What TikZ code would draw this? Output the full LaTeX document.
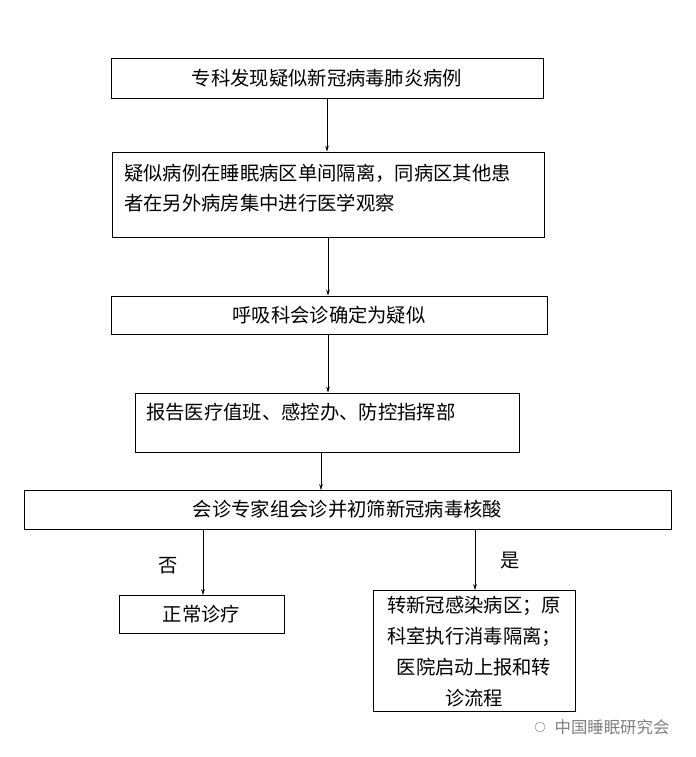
\documentclass[tikz,border=0pt]{standalone}
\usepackage{fontspec}
\newfontfamily\cjk{Noto Sans CJK SC}
\usetikzlibrary{arrows.meta}
\begin{document}
\begin{tikzpicture}[x=0.03cm,y=-0.03cm,
    box/.style={draw, thick, inner sep=0pt},
    lbl/.style={font=\cjk\fontsize{16.5}{26}\selectfont},
    arr/.style={-{Stealth[length=5pt,width=3pt]}}]
    \useasboundingbox (0,0) rectangle (695,757);

    % Boxes
    \node[box, minimum width=432*0.03cm, minimum height=40*0.03cm] (find) at (327,78) {};
    \node[box, minimum width=432*0.03cm, minimum height=85*0.03cm] (isolate) at (328,194.5) {};
    \node[box, minimum width=436*0.03cm, minimum height=38*0.03cm] (resp) at (329,315) {};
    \node[box, minimum width=384*0.03cm, minimum height=59*0.03cm] (report) at (327,422.5) {};
    \node[box, minimum width=647*0.03cm, minimum height=39*0.03cm] (expert) at (347.5,509.5) {};
    \node[box, minimum width=165*0.03cm, minimum height=38*0.03cm] (normal) at (201.5,614) {};
    \node[box, minimum width=202*0.03cm, minimum height=121*0.03cm] (transfer) at (474,650.5) {};

    % Texts
    \node[lbl] at (find) {专科发现疑似新冠病毒肺炎病例};
    \node[lbl, anchor=north west, align=left] at (120,160) {疑似病例在睡眠病区单间隔离，同病区其他患\\者在另外病房集中进行医学观察};
    \node[lbl] at (resp) {呼吸科会诊确定为疑似};
    \node[lbl, anchor=west] at (142,412) {报告医疗值班、感控办、防控指挥部};
    \node[lbl] at (expert) {会诊专家组会诊并初筛新冠病毒核酸};
    \node[lbl] at (normal) {正常诊疗};
    \node[lbl, align=center, font=\cjk\fontsize{16.5}{26.5}\selectfont] at (474,652) {转新冠感染病区；原\\科室执行消毒隔离；\\医院启动上报和转\\诊流程};

    % Arrows
    \draw[arr] (find.south) -- (isolate.north -| find.south);
    \draw[arr] (isolate.south) -- (resp.north -| isolate.south);
    \draw[arr] (resp.south -| isolate.south) -- (report.north -| isolate.south);
    \draw[arr] (321,452) -- (321,490);
    \draw[arr] (203,529) -- (203,595);
    \draw[arr] (475,529) -- (475,590);

    % Branch labels
    \node[lbl] at (168,566) {否};
    \node[lbl] at (510,561) {是};

    % Watermark
    \node[font=\cjk\fontsize{14}{16}\selectfont, text=gray] at (612,727) {中国睡眠研究会};
    \node[draw=gray, circle, inner sep=3pt] (icon) at (540,727) {};
\end{tikzpicture}
\end{document}
